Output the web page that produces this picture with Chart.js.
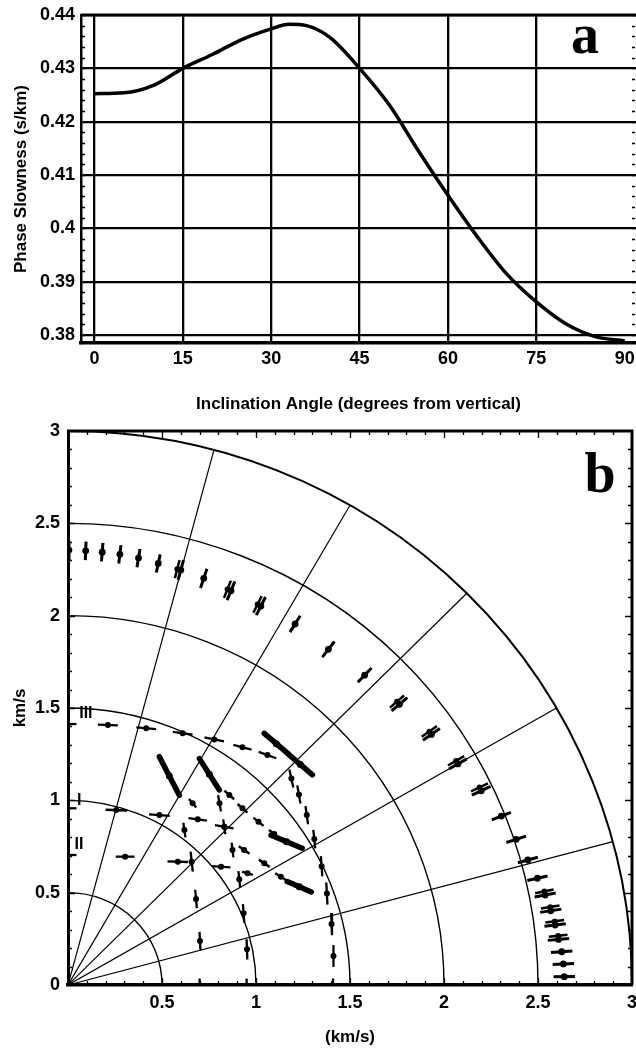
<!DOCTYPE html>
<html>
<head>
<meta charset="utf-8">
<script src="https://cdn.jsdelivr.net/npm/chart.js@4.4.1/dist/chart.umd.min.js"></script>
<style>
  html, body { margin: 0; padding: 0; background: #fff; }
  #wrap { position: relative; width: 636px; height: 1051px; overflow: hidden; }
  canvas { position: absolute; left: 0; }
  #ca { top: 0; }
  #cb { top: 420px; }
</style>
</head>
<body>
<div id="wrap">
  <canvas id="ca" width="636" height="420"></canvas>
  <canvas id="cb" width="636" height="631"></canvas>
</div>
<script>
const SANS  = '"Liberation Sans", Arial, Helvetica, sans-serif';
const SERIF = '"Liberation Serif", "Times New Roman", serif';
Chart.defaults.font.family = SANS;
Chart.defaults.color = '#000';

// ---- panel a : phase slowness vs inclination
const inclination = [0, 5, 10, 15, 20, 25, 30, 33, 36, 40, 45, 50, 55, 60, 65, 70, 75, 80, 85, 90];
const slowness    = [0.42525, 0.4254, 0.4268, 0.4300, 0.4326, 0.4354, 0.4374, 0.43825, 0.4380, 0.43575,
                     0.4300, 0.4232, 0.4145, 0.4062, 0.3984, 0.3914, 0.3862, 0.3821, 0.3797, 0.3789];
const aXTicks = [0, 15, 30, 45, 60, 75, 90];
const aYTicks = [0.38, 0.39, 0.40, 0.41, 0.42, 0.43, 0.44];

// ---- panel b : velocity surface (km/s), centre + error half-length + bar direction (deg)
const outerX = [0.005, 0.094, 0.182, 0.276, 0.375, 0.480, 0.600, 0.722, 0.867, 1.026, 1.208, 1.385, 1.578, 1.763,
                1.933, 2.074, 2.198, 2.305, 2.384, 2.446, 2.497, 2.538, 2.568, 2.591, 2.609, 2.626, 2.635, 2.640];
const outerY = [2.355, 2.351, 2.344, 2.332, 2.312, 2.283, 2.247, 2.202, 2.135, 2.052, 1.955, 1.818, 1.678, 1.520,
                1.357, 1.197, 1.052, 0.915, 0.789, 0.677, 0.578, 0.487, 0.402, 0.325, 0.247, 0.180, 0.114, 0.045];
const outerErr = [0.05, 0.05, 0.05, 0.05, 0.05, 0.05, 0.055, 0.055, 0.055, 0.055, 0.052, 0.053, 0.053, 0.055,
                  0.055, 0.055, 0.055, 0.055, 0.055, 0.055, 0.055, 0.057, 0.057, 0.057, 0.057, 0.057, 0.057, 0.057];
// second (overlapping) measurement at some of the outer azimuths
const outer2X = [0.581, 0.848, 1.008, 1.750, 1.922, 2.064, 2.189, 2.534, 2.565, 2.589, 2.607];
const outer2Y = [2.252, 2.143, 2.061, 1.535, 1.373, 1.214, 1.070, 0.507, 0.422, 0.345, 0.267];

const iiiX   = [0.212, 0.416, 0.610, 0.778, 0.928, 1.061, 1.188, 1.228, 1.270, 1.310, 1.349, 1.377, 1.402, 1.412];
const iiiY   = [1.408, 1.390, 1.363, 1.330, 1.287, 1.245, 1.118, 1.032, 0.920, 0.790, 0.643, 0.495, 0.330, 0.157];
const iiiAng = [-2, -5, -8, -12, -15, -20, -78, -80, -82, -84, -86, -87, -88, -90];
const iiiErr = [0.053, 0.053, 0.053, 0.053, 0.05, 0.05, 0.05, 0.05, 0.05, 0.05, 0.055, 0.06, 0.06, 0.06];

const iX   = [0.257, 0.486, 0.690, 0.831];
const iY   = [0.947, 0.920, 0.897, 0.857];
const iAng = [-2, -4, -8, -10];
const iErr = [0.057, 0.055, 0.05, 0.05];

const iiX   = [0.304, 0.584, 0.814];
const iiY   = [0.695, 0.668, 0.640];
const iiAng = [0, -2, -4];
const iiErr = [0.05, 0.055, 0.05];

const colX   = [0.619, 0.658, 0.681, 0.702, 0.806, 0.831, 0.875, 0.911, 0.934, 0.952];
const colY   = [0.839, 0.668, 0.466, 0.238, 0.984, 0.857, 0.731, 0.572, 0.388, 0.193];
const colAng = [-82, -84, -85, -87, -80, -82, -83, -84, -86, -88];
const colErr = [0.04, 0.055, 0.05, 0.05, 0.045, 0.04, 0.04, 0.045, 0.05, 0.055];

const diagX   = [0.663, 0.858, 0.928, 1.013, 1.097, 0.937, 1.044, 1.132, 0.955];
const diagY   = [0.984, 1.029, 0.957, 0.884, 0.818, 0.731, 0.659, 0.586, 0.605];
const diagAng = [-50, -42, -42, -40, -38, -35, -35, -33, -17];
const diagErr = [0.03, 0.035, 0.035, 0.035, 0.035, 0.035, 0.035, 0.035, 0.03];

const streakX   = [0.539, 0.752, 1.108, 1.236, 1.163, 1.230];
const streakY   = [1.132, 1.141, 1.307, 1.194, 0.776, 0.532];
const streakAng = [-63, -58, -41, -41, -23, -24];
const streakErr = [0.117, 0.10, 0.085, 0.085, 0.09, 0.07];

// bars cut by the axes (centre on the frame)
const stubX   = [0, 0, 0, 0.70, 0.95, 1.41];
const stubY   = [1.413, 0.957, 0.704, 0, 0, 0];
const stubAng = [0, 0, 0, 90, 90, 90];
const stubErr = [0.045, 0.045, 0.045, 0.035, 0.035, 0.035];

const ringRadii   = [0.5, 1, 1.5, 2, 2.5, 3];
const spokeAngles = [15, 30, 45, 60, 75];
const bXTicks = [0.5, 1, 1.5, 2, 2.5, 3];
const bYTicks = [0, 0.5, 1, 1.5, 2, 2.5, 3];
const branchLabels = [
  { text: 'III', x: 0.095, y: 1.469 },
  { text: 'I',   x: 0.060, y: 1.000 },
  { text: 'II',  x: 0.058, y: 0.758 },
];

const fmt = v => String(Math.round(v * 1000) / 1000);
const tickFont  = { family: SANS, size: 18, weight: 'bold' };
const titleFont = { family: SANS, size: 17, weight: 'bold' };

// ---------- panel a ----------
const frameA = {
  id: 'frameA',
  afterDraw(chart) {
    const { ctx, chartArea: a, scales: { y } } = chart;
    ctx.save();
    ctx.strokeStyle = '#000';
    ctx.lineWidth = 3;
    ctx.beginPath();
    ctx.moveTo(a.left, a.top); ctx.lineTo(a.right, a.top);
    ctx.stroke();
    ctx.lineWidth = 1.3;
    ctx.beginPath();
    for (let v = 0.380; v < 0.4401; v += 0.002) {
      const py = Math.round(y.getPixelForValue(v)) + 0.5;
      ctx.moveTo(a.left, py);      ctx.lineTo(a.left + 4, py);
      ctx.moveTo(a.right - 4, py); ctx.lineTo(a.right - 1, py);
    }
    ctx.stroke();
    ctx.fillStyle = '#000';
    ctx.font = 'bold 56px ' + SERIF;
    ctx.textAlign = 'center';
    ctx.textBaseline = 'alphabetic';
    ctx.fillText('a', 585, 53);
    ctx.restore();
  }
};

new Chart(document.getElementById('ca'), {
  type: 'line',
  data: {
    datasets: [{
      data: inclination.map((x, i) => ({ x, y: slowness[i] })),
      borderColor: '#000',
      borderWidth: 3.5,
      pointRadius: 0,
      cubicInterpolationMode: 'monotone',
      fill: false,
    }],
  },
  options: {
    responsive: false,
    animation: false,
    events: [],
    layout: { padding: { top: 15, right: 0, bottom: 0, left: 0 } },
    plugins: { legend: { display: false }, tooltip: { enabled: false } },
    scales: {
      x: {
        type: 'linear', min: -2.29, max: 91.92,
        afterBuildTicks: s => { s.ticks = aXTicks.map(v => ({ value: v })); },
        afterFit: s => { s.height = 77; s.paddingLeft = 0; s.paddingRight = 0; },
        grid: {
          drawTicks: false,
          color: c => (c.tick && c.tick.value === 90) ? 'rgba(0,0,0,0)' : '#000',
          lineWidth: 2.3,
        },
        border: { display: true, color: '#000', width: 3.5 },
        ticks: { padding: 5, font: tickFont, color: '#000', callback: v => fmt(v), maxRotation: 0, autoSkip: false },
        title: { display: true, text: 'Inclination Angle (degrees from vertical)', font: titleFont, color: '#000',
                 padding: { top: 0, bottom: 5 } },
      },
      y: {
        type: 'linear', min: 0.3785, max: 0.44,
        afterBuildTicks: s => { s.ticks = aYTicks.map(v => ({ value: v })); },
        afterFit: s => { s.width = 81; s.paddingTop = 0; s.paddingBottom = 0; },
        grid: { drawTicks: false, color: '#000', lineWidth: 2.3 },
        border: { display: true, color: '#000', width: 2.5 },
        ticks: { padding: 6, font: tickFont, color: '#000', callback: v => fmt(v), autoSkip: false },
        title: { display: true, text: 'Phase Slowness (s/km)', font: titleFont, color: '#000',
                 padding: { top: 11, bottom: 0 } },
      },
    },
  },
  plugins: [frameA],
});

// ---------- panel b ----------
const datasetsB = [];

function addBars(xs, ys, angs, errs, width, cap) {
  xs.forEach((x, i) => {
    const a = angs[i] * Math.PI / 180, h = errs[i], y = ys[i];
    datasetsB.push({
      showLine: true,
      data: [{ x: x - h * Math.cos(a), y: y - h * Math.sin(a) }, { x: x + h * Math.cos(a), y: y + h * Math.sin(a) }],
      borderColor: '#000', borderWidth: width, borderCapStyle: cap || 'butt',
      pointRadius: 0, fill: false,
    });
  });
}
function addDots(xs, ys, r) {
  datasetsB.push({
    data: xs.map((x, i) => ({ x, y: ys[i] })),
    pointRadius: r, pointBackgroundColor: '#000', pointBorderWidth: 0, showLine: false,
  });
}

const outerAng  = outerX.map((x, i) => Math.atan2(outerY[i], x) * 180 / Math.PI);
const outer2Ang = outer2X.map((x, i) => Math.atan2(outer2Y[i], x) * 180 / Math.PI);
addBars(outerX, outerY, outerAng, outerErr, 3);
addBars(outer2X, outer2Y, outer2Ang, outer2X.map(() => 0.05), 2.5);
addDots(outerX, outerY, 3.4);
addDots(outer2X, outer2Y, 2.8);

addBars(iiiX, iiiY, iiiAng, iiiErr, 2.3);
addBars(iX, iY, iAng, iErr, 2.3);
addBars(iiX, iiY, iiAng, iiErr, 2.3);
addBars(colX, colY, colAng, colErr, 2.3);
addBars(diagX, diagY, diagAng, diagErr, 2.5);
addBars(streakX, streakY, streakAng, streakErr, 5.5, 'round');
addBars(stubX, stubY, stubAng, stubErr, 2.3);
addDots(iiiX, iiiY, 3);
addDots(iX, iY, 3);
addDots(iiX, iiY, 3);
addDots(colX, colY, 3);
addDots(diagX, diagY, 3);
addDots(streakX, streakY, 3.5);

const polarGrid = {
  id: 'polarGrid',
  beforeDatasetsDraw(chart) {
    const { ctx, chartArea: a, scales: { x, y } } = chart;
    const x0 = x.getPixelForValue(0), y0 = y.getPixelForValue(0);
    ctx.save();
    ctx.beginPath();
    ctx.rect(a.left, a.top - 2, a.right - a.left + 2, a.bottom - a.top + 2);
    ctx.clip();
    ctx.strokeStyle = '#000';
    ringRadii.forEach(r => {
      ctx.lineWidth = r === 3 ? 2 : 1.4;
      ctx.beginPath();
      ctx.ellipse(x0, y0, x.getPixelForValue(r) - x0, y0 - y.getPixelForValue(r), 0, -Math.PI / 2, 0);
      ctx.stroke();
    });
    ctx.lineWidth = 1.2;
    const rMax = ringRadii[ringRadii.length - 1];
    spokeAngles.forEach(d => {
      const t = d * Math.PI / 180;
      ctx.beginPath();
      ctx.moveTo(x0, y0);
      ctx.lineTo(x.getPixelForValue(rMax * Math.cos(t)), y.getPixelForValue(rMax * Math.sin(t)));
      ctx.stroke();
    });
    ctx.restore();
  },
  afterDraw(chart) {
    const { ctx, chartArea: a, scales: { x, y } } = chart;
    ctx.save();
    ctx.strokeStyle = '#000';
    ctx.lineWidth = 3;
    ctx.beginPath();
    ctx.moveTo(a.left - 1, a.top); ctx.lineTo(a.right, a.top); ctx.lineTo(a.right, a.bottom);
    ctx.stroke();
    ctx.lineWidth = 1.3;
    ctx.beginPath();
    for (let k = 1; k < 30; k++) {
      const v = k / 10;
      const len = k % 5 === 0 ? 7 : 4;
      const px = Math.round(x.getPixelForValue(v)) + 0.5;
      const py = Math.round(y.getPixelForValue(v)) + 0.5;
      ctx.moveTo(px, a.bottom); ctx.lineTo(px, a.bottom - len);
      ctx.moveTo(px, a.top);    ctx.lineTo(px, a.top + len);
      ctx.moveTo(a.left, py);   ctx.lineTo(a.left + len, py);
      ctx.moveTo(a.right, py);  ctx.lineTo(a.right - len, py);
    }
    ctx.stroke();
    ctx.fillStyle = '#000';
    ctx.font = 'bold 16px ' + SANS;
    ctx.textAlign = 'center';
    ctx.textBaseline = 'middle';
    branchLabels.forEach(l => ctx.fillText(l.text, x.getPixelForValue(l.x), y.getPixelForValue(l.y)));
    ctx.font = 'bold 56px ' + SERIF;
    ctx.textBaseline = 'alphabetic';
    ctx.fillText('b', 600, 72);
    ctx.restore();
  }
};

new Chart(document.getElementById('cb'), {
  type: 'scatter',
  data: { datasets: datasetsB },
  options: {
    responsive: false,
    animation: false,
    events: [],
    layout: { padding: { top: 11, right: 2, bottom: 0, left: 0 } },
    plugins: { legend: { display: false }, tooltip: { enabled: false } },
    scales: {
      x: {
        type: 'linear', min: 0, max: 3,
        afterBuildTicks: s => { s.ticks = bXTicks.map(v => ({ value: v })); },
        afterFit: s => { s.height = 66; s.paddingLeft = 0; s.paddingRight = 0; },
        grid: { drawTicks: false, color: 'rgba(0,0,0,0)' },
        border: { display: true, color: '#000', width: 3.5 },
        ticks: { padding: 7, font: tickFont, color: '#000', callback: v => fmt(v), maxRotation: 0, autoSkip: false },
        title: { display: true, text: '(km/s)', font: titleFont, color: '#000', padding: { top: 0, bottom: 3 } },
      },
      y: {
        type: 'linear', min: 0, max: 3,
        afterBuildTicks: s => { s.ticks = bYTicks.map(v => ({ value: v })); },
        afterFit: s => { s.width = 68; s.paddingTop = 0; s.paddingBottom = 0; },
        grid: { drawTicks: false, color: 'rgba(0,0,0,0)' },
        border: { display: true, color: '#000', width: 3 },
        ticks: { padding: 8, font: tickFont, color: '#000', callback: v => fmt(v), autoSkip: false },
        title: { display: true, text: 'km/s', font: titleFont, color: '#000', padding: { top: 10, bottom: 0 } },
      },
    },
  },
  plugins: [polarGrid],
});
</script>
</body>
</html>
